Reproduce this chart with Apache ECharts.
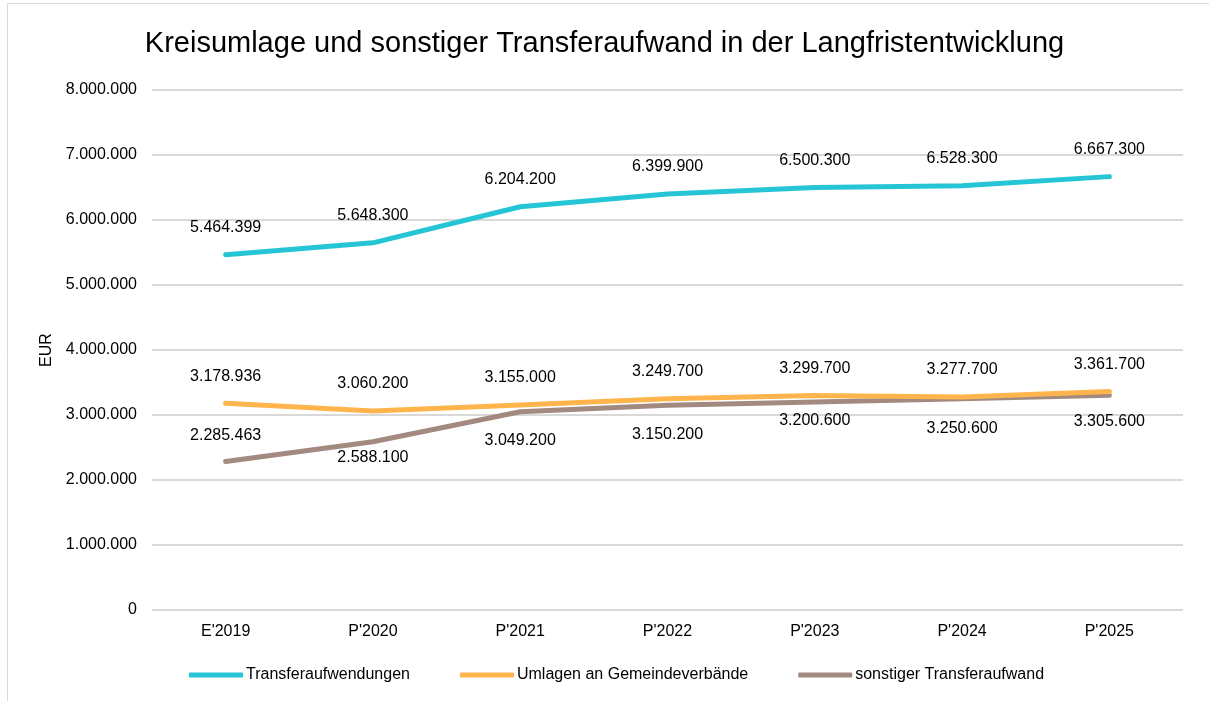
<!DOCTYPE html>
<html>
<head>
<meta charset="utf-8">
<script src="https://cdn.jsdelivr.net/npm/echarts@6/dist/echarts.min.js"></script>
<style>
  html, body { margin: 0; padding: 0; background: #fff; }
  #chart { width: 1209px; height: 701px; }
</style>
</head>
<body>
<div id="chart"></div>
<script>
const categories = ["E'2019", "P'2020", "P'2021", "P'2022", "P'2023", "P'2024", "P'2025"];
const transferaufwendungen = [5464399, 5648300, 6204200, 6399900, 6500300, 6528300, 6667300];
const umlagen = [3178936, 3060200, 3155000, 3249700, 3299700, 3277700, 3361700];
const sonstiger = [2285463, 2588100, 3049200, 3150200, 3200600, 3250600, 3305600];
// label side for the brown series (first one sits above the line)
const sonstigerLabelPos = ['top', 'bottom', 'bottom', 'bottom', 'bottom', 'bottom', 'bottom'];
const sonstigerLabelDist = [18, 8, 21, 21, 11, 22, 18];

const fmt = v => Math.round(v).toString().replace(/\B(?=(\d{3})+(?!\d))/g, '.');
const FONT = '"Liberation Sans", Arial, sans-serif';

const chart = echarts.init(document.getElementById('chart'));

const labelStyle = { show: true, color: '#000', fontSize: 16, fontFamily: FONT, formatter: p => fmt(p.value) };

function lineSeries(name, data, color, label, z) {
  return {
    name, type: 'line', data, z,
    // zero-size symbols so the value labels are still drawn
    symbol: 'circle', symbolSize: 0, showSymbol: true,
    itemStyle: { color },
    lineStyle: { width: 5, color, cap: 'round' },
    label: Object.assign({}, labelStyle, label)
  };
}

chart.setOption({
  animation: false,
  textStyle: { fontFamily: FONT },
  title: {
    text: 'Kreisumlage und sonstiger Transferaufwand in der Langfristentwicklung',
    left: 'center', top: 24,
    textStyle: { fontSize: 29, fontWeight: 'normal', color: '#000', fontFamily: FONT }
  },
  graphic: [{
    type: 'rect', shape: { x: 7.5, y: 3.5, width: 1220, height: 720 },
    style: { fill: 'none', stroke: '#d9d9d9', lineWidth: 1 }, silent: true
  }],
  grid: { left: 152, right: 26, top: 90, bottom: 91 },
  legend: {
    top: 662, left: 184, itemGap: 50, itemWidth: 54, itemHeight: 5,
    icon: 'roundRect',
    textStyle: { fontSize: 16, color: '#000', fontFamily: FONT, padding: [0, 0, 0, -2] },
    data: ['Transferaufwendungen', 'Umlagen an Gemeindeverbände', 'sonstiger Transferaufwand']
  },
  xAxis: {
    type: 'category', data: categories, boundaryGap: true,
    axisLine: { show: false }, axisTick: { show: false },
    axisLabel: { color: '#000', fontSize: 16, margin: 14 }
  },
  yAxis: {
    type: 'value', min: 0, max: 8000000, interval: 1000000,
    name: 'EUR', nameLocation: 'middle', nameGap: 94, nameRotate: 90,
    nameTextStyle: { color: '#000', fontSize: 16 },
    axisLabel: { color: '#000', fontSize: 16, margin: 15, formatter: v => fmt(v) },
    splitLine: { lineStyle: { color: '#d9d9d9', width: 2 } }
  },
  series: [
    lineSeries('Transferaufwendungen', transferaufwendungen, '#26C5D6', { position: 'top', distance: 19 }, 3),
    lineSeries('Umlagen an Gemeindeverbände', umlagen, '#FFB54C', { position: 'top', distance: 19 }, 2),
    lineSeries('sonstiger Transferaufwand',
      sonstiger.map((v, i) => ({
        value: v,
        label: { position: sonstigerLabelPos[i], distance: sonstigerLabelDist[i] }
      })),
      '#A38A80', {}, 1)
  ]
});
</script>
</body>
</html>
